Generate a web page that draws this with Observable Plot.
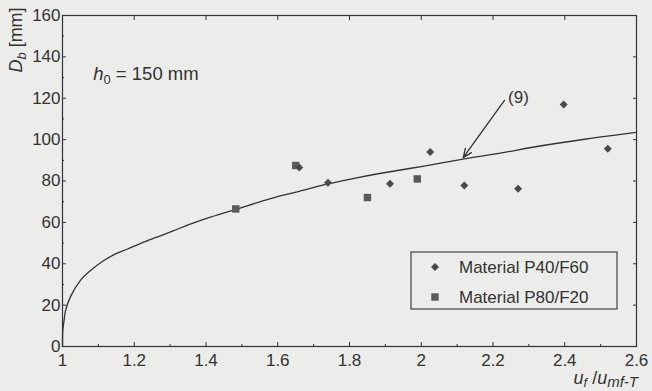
<!DOCTYPE html>
<html><head><meta charset="utf-8">
<script src="https://cdn.jsdelivr.net/npm/d3@7"></script>
<script src="https://cdn.jsdelivr.net/npm/@observablehq/plot@0.6"></script>
<style>
html,body{margin:0;padding:0;background:#ececea;}
#chart svg{display:block;}
</style>
</head><body><div id="chart"></div>
<script>
// ---- data ----
const xTicks = [1, 1.2, 1.4, 1.6, 1.8, 2, 2.2, 2.4, 2.6];
const xMinor = [1.1, 1.3, 1.5, 1.7, 1.9, 2.1, 2.3, 2.5];
const yTicks = [0, 20, 40, 60, 80, 100, 120, 140, 160];
const yMinor = [10, 30, 50, 70, 90, 110, 130, 150];

const p40U = [1.66, 1.74, 1.913, 2.025, 2.12, 2.27, 2.397, 2.52];
const p40D = [86.5, 79.2, 78.7, 94.0, 77.8, 76.3, 117.0, 95.6];

const p80U = [1.65, 1.483, 1.85, 1.989];
const p80D = [87.5, 66.5, 72.0, 81.0];

const curveU = [1.0, 1.001, 1.004, 1.008, 1.022, 1.05, 1.08, 1.11, 1.145, 1.18, 1.22, 1.265, 1.31, 1.35, 1.40, 1.483, 1.58, 1.66, 1.74, 1.81, 1.88, 2.0, 2.14, 2.22, 2.327, 2.46, 2.6];
const curveD = [0, 8, 12, 17, 24, 32, 37, 41, 44.5, 47, 50, 53, 56, 58.8, 61.8, 66.3, 71.5, 75, 78.6, 81.2, 83.5, 87, 91.3, 93.5, 96.8, 100.3, 103.5];

const arrowFrom = [2.232, 119];
const arrowTo = [2.117, 91.3];
const eqLabel = {u: 2.271, d: 120.5, text: "(9)"};
const h0Label = {u: 1.087, d: 128.6};

const seriesNames = ["Material P40/F60", "Material P80/F20"];

const ink = "#333";
const fontFam = "'Liberation Sans', Arial, Helvetica, sans-serif";

const p40 = p40U.map((u, i) => ({u, d: p40D[i]}));
const p80 = p80U.map((u, i) => ({u, d: p80D[i]}));
const curve = curveU.map((u, i) => ({u, d: curveD[i]}));

const plot = Plot.plot({
  width: 652, height: 391,
  marginLeft: 62, marginRight: 16, marginTop: 15, marginBottom: 45,
  x: {domain: [1, 2.6]},
  y: {domain: [0, 160]},
  style: {fontFamily: fontFam, fontSize: "17px", color: ink, background: "#ececea", overflow: "visible"},
  marks: [
    Plot.frame({stroke: ink, strokeWidth: 1.2}),
    // tick labels
    Plot.axisX(xTicks, {anchor: "bottom", tickSize: 0, tickPadding: 7, label: null, tickFormat: d => String(d), fill: ink}),
    Plot.axisY(yTicks, {anchor: "left", tickSize: 0, tickPadding: 2, label: null, fill: ink}),
    // inward ticks
    Plot.axisX(xTicks, {anchor: "bottom", tickSize: 4, dy: -4, label: null, tickFormat: () => ""}),
    Plot.axisX(xMinor, {anchor: "bottom", tickSize: 2, dy: -2, label: null, tickFormat: () => ""}),
    Plot.axisX(xTicks, {anchor: "top", tickSize: 4, dy: 4, label: null, tickFormat: () => ""}),
    Plot.axisY(yTicks, {anchor: "left", tickSize: 4, dx: 4, label: null, tickFormat: () => ""}),
    Plot.axisY(yMinor, {anchor: "left", tickSize: 2, dx: 2, label: null, tickFormat: () => ""}),
    Plot.axisY(yTicks, {anchor: "right", tickSize: 4, dx: -4, label: null, tickFormat: () => ""}),
    // model curve (9)
    Plot.line(curve, {x: "u", y: "d", stroke: ink, strokeWidth: 1.3, curve: "catmull-rom"}),
    Plot.arrow([{x1: arrowFrom[0], y1: arrowFrom[1], x2: arrowTo[0], y2: arrowTo[1]}],
      {x1: "x1", y1: "y1", x2: "x2", y2: "y2", stroke: ink, strokeWidth: 1.3, headLength: 11, headAngle: 45}),
    Plot.text([eqLabel], {x: "u", y: "d", text: "text", fill: ink, fontSize: 17}),
    // data
    Plot.dot(p80, {x: "u", y: "d", symbol: "square", r: 4.2, fill: "#5a5a5a", stroke: "none"}),
    Plot.dot(p40, {x: "u", y: "d", symbol: "square", rotate: 45, r: 3.2, fill: "#4a4a4a", stroke: "none"})
  ]
});

document.getElementById("chart").appendChild(plot);

const sx = plot.scale("x"), sy = plot.scale("y");
const svg = d3.select(plot);
const g = svg.append("g").attr("font-family", fontFam).attr("fill", ink).attr("text-anchor", "start");

// h0 = 150 mm
const h0 = g.append("text").attr("x", sx.apply(h0Label.u)).attr("y", sy.apply(h0Label.d)).attr("font-size", 18.5);
h0.append("tspan").attr("font-style", "italic").text("h");
h0.append("tspan").attr("font-size", 13).attr("dy", 4).text("0");
h0.append("tspan").attr("dy", -4).text(" = 150 mm");

// y label
const yl = g.append("text").attr("transform", "translate(22,40) rotate(-90)").attr("text-anchor", "middle").attr("font-size", 18);
yl.append("tspan").attr("font-style", "italic").text("D");
yl.append("tspan").attr("font-style", "italic").attr("font-size", 13).attr("dy", 4).text("b");
yl.append("tspan").attr("dy", -4).text(" [mm]");

// x label
const xl = g.append("text").attr("x", 638).attr("y", 384).attr("text-anchor", "end").attr("font-size", 18);
xl.append("tspan").attr("font-style", "italic").text("u");
xl.append("tspan").attr("font-style", "italic").attr("font-size", 13).attr("dy", 3).text("f");
xl.append("tspan").attr("dy", -3).text(" /");
xl.append("tspan").attr("font-style", "italic").text("u");
xl.append("tspan").attr("font-style", "italic").attr("font-size", 15).attr("dy", 3).text("mf-T");

// legend
const lg = g.append("g");
lg.append("rect").attr("x", 411).attr("y", 252).attr("width", 206).attr("height", 57)
  .attr("fill", "none").attr("stroke", ink).attr("stroke-width", 1.1);
const sym = [d3.symbol(d3.symbolSquare, 3.2 * 3.2 * Math.PI)(), d3.symbol(d3.symbolSquare, 4.2 * 4.2 * Math.PI)()];
seriesNames.forEach((name, i) => {
  const cy = 267 + i * 30;
  lg.append("path").attr("d", sym[i])
    .attr("transform", `translate(435,${cy})` + (i === 0 ? " rotate(45)" : ""))
    .attr("fill", i === 0 ? "#4a4a4a" : "#5a5a5a");
  lg.append("text").attr("x", 459).attr("y", cy).attr("dy", "0.35em").attr("font-size", 17).text(name);
});
</script>
</body></html>
